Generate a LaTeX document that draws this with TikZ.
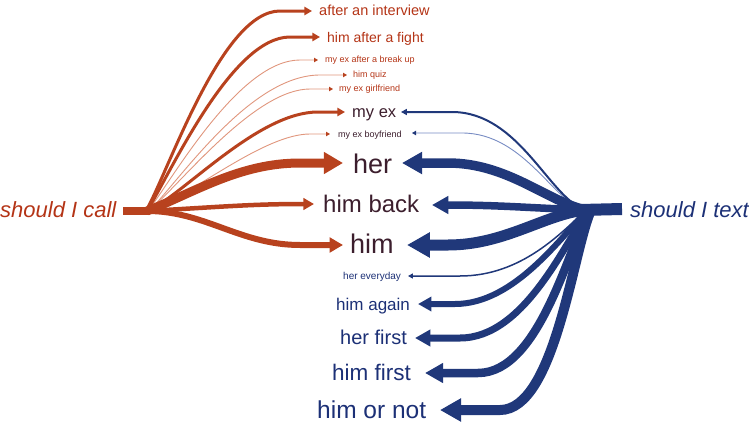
\documentclass[tikz,border=0pt]{standalone}
\usepackage{fontspec}
\setmainfont{Liberation Sans}
\usetikzlibrary{arrows.meta}
\definecolor{oc}{RGB}{184,66,30}
\definecolor{olight}{RGB}{224,150,125}
\definecolor{otext}{RGB}{180,52,22}
\definecolor{bc}{RGB}{32,56,122}
\definecolor{blight}{RGB}{120,140,195}
\definecolor{btext}{RGB}{28,48,118}
\definecolor{dtext}{RGB}{60,30,45}
\newcommand{\fsz}[1]{\fontsize{#1}{#1}\selectfont}
\begin{document}
\begin{tikzpicture}[x=1pt,y=-1pt,
  every node/.style={inner sep=0pt,anchor=base west},
  olab/.style={text=otext},
  dlab/.style={text=dtext},
  blab/.style={text=btext},
  oarr/.style={draw=oc,-{Triangle[length=2pt 1.9,width=2pt 2.1]}},
  othin/.style={draw=olight,line width=0.9pt,-{Triangle[length=4pt,width=4.4pt,color=oc]}},
  barr/.style={draw=bc,-{Triangle[length=2pt 1.9,width=2pt 2.0]}},
  bthin/.style={draw=blight,line width=0.9pt,-{Triangle[length=4pt,width=4.4pt,color=bc]}},
  stem/.style={line cap=butt}
]
\useasboundingbox (0,0) rectangle (749,431);

% labels
\node[olab,font=\fsz{22}\itshape] (call) at (0,217) {should I call};
\node[blab,font=\fsz{22}\itshape] (text) at (630,217) {should I text};

\node[olab,font=\fsz{14.5}] (lint) at (319,16) {after an interview};
\node[olab,font=\fsz{14}] (lfight) at (327,42.5) {him after a fight};
\node[olab,font=\fsz{9}] (lbreak) at (325,62.5) {my ex after a break up};
\node[olab,font=\fsz{9}] (lquiz) at (353,77) {him quiz};
\node[olab,font=\fsz{9}] (lgirl) at (339,91) {my ex girlfriend};
\node[dlab,font=\fsz{16.5}] (lmyex) at (352,117) {my ex};
\node[dlab,font=\fsz{9}] (lboy) at (338,137) {my ex boyfriend};
\node[dlab,font=\fsz{27}] (lher) at (353,173) {her};
\node[dlab,font=\fsz{24}] (lback) at (323,212) {him back};
\node[dlab,font=\fsz{27}] (lhim) at (350,253) {him};
\node[blab,font=\fsz{10}] (lev) at (343,279.5) {her everyday};
\node[blab,font=\fsz{17}] (lagain) at (336,310) {him again};
\node[blab,font=\fsz{20}] (lhf) at (340,344) {her first};
\node[blab,font=\fsz{22.5}] (lhimf) at (332,380) {him first};
\node[blab,font=\fsz{24.5}] (lnot) at (317,418) {him or not};

% hubs
\coordinate (stemL) at (123,211);
\coordinate (hubL) at (150,211);
\coordinate (stemR) at (622,209);
\coordinate (hubR) at (586,210);

% tips (left side arrows)
\coordinate (tint) at (312,11);
\coordinate (tfight) at (320,37);
\coordinate (tbreak) at (318,60);
\coordinate (tquiz) at (347,75);
\coordinate (tgirl) at (333,89);
\coordinate (tmyex) at (345,112);
\coordinate (tboy) at (330,134);
\coordinate (ther) at (343,163);
\coordinate (tback) at (314,204);
\coordinate (thim) at (343,245);
% tips (right side arrows)
\coordinate (umyex) at (401,112);
\coordinate (uboy) at (412,133);
\coordinate (uher) at (402,163);
\coordinate (uback) at (432,205);
\coordinate (uhim) at (407,245);
\coordinate (uev) at (408,276);
\coordinate (uagain) at (418,304);
\coordinate (uhf) at (415,338);
\coordinate (uhimf) at (425,373);
\coordinate (unot) at (440,410);

% orange stem
\draw[oc,line width=8.5pt,stem] (stemL) -- (hubL);
% orange thin
\draw[othin] ([xshift=-2pt]hubL) .. controls (175,175) and (240,60) .. (300,60) -- (tbreak);
\draw[othin] ([xshift=-1pt]hubL) .. controls (180,180) and (250,75) .. (320,75) -- (tquiz);
\draw[othin] ([xshift=-1pt]hubL) .. controls (182,182) and (255,89) .. (310,89) -- (tgirl);
\draw[othin] (hubL) .. controls (195,192) and (265,134) .. (310,134) -- (tboy);
% orange thick
\draw[oarr,line width=3pt] ([xshift=-4pt]hubL) .. controls (170,168) and (222,11) .. (280,11) -- (tint);
\draw[oarr,line width=3pt] ([xshift=-3pt]hubL) .. controls (172,170) and (232,37) .. (290,37) -- (tfight);
\draw[oarr,line width=3pt] ([xshift=-1pt]hubL) .. controls (190,188) and (260,112) .. (318,112) -- (tmyex);
\draw[oarr,line width=9pt] ([xshift=-3pt]hubL) .. controls (195,192) and (240,163) .. (300,163) -- (ther);
\draw[oarr,line width=4.5pt] ([xshift=-3pt]hubL) .. controls (220,207) and (250,204) .. (tback);
\draw[oarr,line width=6pt] ([xshift=-3pt]hubL) .. controls (205,211) and (240,245) .. (300,245) -- (thim);

% blue stem
\draw[bc,line width=12pt,stem] ([xshift=-6pt]hubR) -- (stemR);
% blue thin
\draw[bthin] (hubR) .. controls (555,205) and (525,133) .. (462,133) -- (uboy);
\draw[barr,line width=2pt] (hubR) .. controls (550,200) and (520,112) .. (452,112) -- (umyex);
\draw[barr,line width=1.5pt] (hubR) .. controls (562,232) and (522,276) .. (460,276) -- (uev);
% blue thick
\draw[barr,line width=9.5pt] (hubR) .. controls (548,202) and (508,163) .. (448,163) -- (uher);
\draw[barr,line width=7.5pt] (hubR) .. controls (530,208) and (500,205) .. (uback);
\draw[barr,line width=11pt] (hubR) .. controls (545,214) and (505,245) .. (448,245) -- (uhim);
\draw[barr,line width=6pt] ([xshift=2pt]hubR) .. controls (562,235) and (515,304) .. (455,304) -- (uagain);
\draw[barr,line width=7pt] ([xshift=3pt]hubR) .. controls (566,240) and (525,338) .. (460,338) -- (uhf);
\draw[barr,line width=8.5pt] ([xshift=4pt]hubR) .. controls (569,245) and (540,373) .. (478,373) -- (uhimf);
\draw[barr,line width=10pt] ([xshift=5pt]hubR) .. controls (573,250) and (555,410) .. (500,410) -- (unot);
\end{tikzpicture}
\end{document}
